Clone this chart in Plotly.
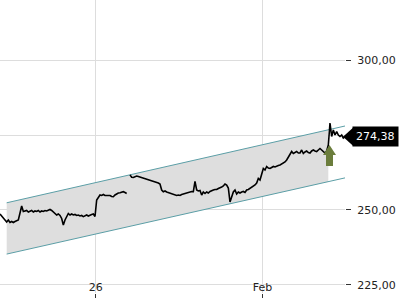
import numpy as np
import plotly.graph_objects as go

# ---- data ----
# intraday closes, 20 bars per trading day (None = missing bar)
price = [
    248.67, 248.0, 247.33, 246.67, 246.0, 246.67, 245.83, 246.17, 245.83, 246.17,
    246.33, 246.67, 249.0, 251.33, 249.5, 249.67, 249.83, 249.33, 249.5, 249.83,
    249.33, 249.67, 249.5, 249.83, 249.33, 249.67, 249.5, 249.83, 249.67, 250.0,
    250.17, 249.83, 249.33, 248.83, 248.33, 248.67, 248.17, 247.17, 245.0, 246.67,
    247.83, 248.83, 248.33, 248.67, 248.33, 248.5, 248.17, 248.33, 248.0, 248.17,
    247.77, 248.0, 248.33, 248.0, 248.33, 248.5, 248.67, 247.83, 253.33, 254.43,
    255.0, 254.83, 255.17, 254.83, 254.83, 254.67, 254.83, 254.5, 254.43, 255.0,
    255.5, 255.67, 255.77, 256.0, 256.1, 255.83, 255.5, None, 261.7, 260.9,
    260.83, 261.1, 261.33, 261.17, 261.0, 260.83, 260.67, 260.5, 260.17, 260.0,
    259.83, 259.67, 259.5, 259.33, 259.33, 259.0, 258.67, 256.67, 256.1, 256.33,
    256.0, 255.83, 255.67, 255.5, 255.33, 255.0, 254.83, 255.0, 254.83, 255.17,
    255.33, 255.5, 255.67, 256.0, 256.0, 256.17, 256.1, 259.5, 256.67, 256.33,
    256.5, 255.0, 256.0, 255.5, 256.0, 255.67, 256.17, 256.5, 256.67, 256.83,
    256.83, 257.17, 257.33, 257.67, 258.0, 258.67, 258.33, 257.33, 252.67, 254.67,
    256.0, 256.67, 255.33, 256.0, 255.67, 256.0, 256.17, 255.83, 256.67, 256.83,
    257.17, 257.5, 257.83, 258.33, 259.0, 260.5, 260.0, 262.17, 263.83, 263.33,
    264.5, 264.0, 263.83, 264.17, 264.5, 264.33, 264.67, 264.83, 265.0, 265.33,
    265.5, 266.0, 266.67, 267.67, 268.83, 269.5, 268.83, 269.33, 269.5, 269.0,
    269.0, 270.0, 268.83, 269.33, 269.67, 269.17, 269.0, 269.67, 270.0, 269.67,
    269.5, 270.0, 270.5, 270.0, 269.5, 269.0, 269.67, 271.67, 279.0, 274.5,
    276.67, 275.0, 276.17, 275.0, 274.5, 275.0, 274.0, 274.38,
]
bars = list(range(len(price)))

# trend channel (bar index, upper, lower)
channel_x = [4, 207]
channel_upper = [252.4, 278.0]
channel_lower = [235.3, 260.7]

# buy signal
signal_bar = 197.7
signal_price = 271.7

last_price = 274.38
last_label = "274,38"

x_tickvals = [57.5, 157.5]
x_ticktext = ["26", "Feb"]
y_tickvals = [225, 250, 275, 300]

x_range = [0, 207]
y_range = [222.33, 320]

FONT = "DejaVu Sans"

# y tick labels with decimal comma; the one under the last-price box stays hidden
y_ticktext = ["" if abs(v - last_price) < 4 else f"{v:.2f}".replace(".", ",")
              for v in y_tickvals]

fig = go.Figure()

# channel fill (up to the signal bar)
fill_end = 197
up_end = float(np.interp(fill_end, channel_x, channel_upper))
lo_end = float(np.interp(fill_end, channel_x, channel_lower))
fig.add_trace(go.Scatter(
    x=[channel_x[0], fill_end, fill_end, channel_x[0]],
    y=[channel_upper[0], up_end, lo_end, channel_lower[0]],
    fill="toself", fillcolor="#dedede", mode="none", hoverinfo="skip",
))
for ys in (channel_upper, channel_lower):
    fig.add_trace(go.Scatter(x=channel_x, y=ys, mode="lines",
                             line=dict(color="#5b9ea6", width=1), hoverinfo="skip"))

fig.add_trace(go.Scatter(x=bars, y=price, mode="lines",
                         line=dict(color="#000000", width=1.6), connectgaps=False))

# buy arrow
fig.add_shape(type="path", xref="x", yref="y",
              xsizemode="pixel", ysizemode="pixel",
              xanchor=signal_bar, yanchor=signal_price,
              path="M 0 0 L 6.5 -10 L 3.5 -10 L 3.5 -21 L -3.5 -21 L -3.5 -10 L -6.5 -10 Z",
              fillcolor="#6b7d3c", line=dict(width=0))

# last price marker
fig.add_shape(type="path", xref="paper", yref="y",
              xsizemode="pixel", ysizemode="pixel",
              xanchor=1, yanchor=last_price,
              path="M -2 0 L 8 9 L 8 -9 Z",
              fillcolor="#000000", line=dict(width=0))
fig.add_annotation(xref="paper", yref="y", x=1, y=last_price, xanchor="left",
                   xshift=7, text=last_label, showarrow=False,
                   bgcolor="#000000", borderpad=3,
                   font=dict(family=FONT, size=11, color="#ffffff"))

fig.update_layout(
    width=400, height=300,
    margin=dict(l=0, r=55, t=0, b=7),
    paper_bgcolor="white", plot_bgcolor="white",
    showlegend=False,
    font=dict(family=FONT, size=11, color="#222222"),
    xaxis=dict(range=x_range, tickvals=x_tickvals, ticktext=x_ticktext,
               showgrid=True, gridcolor="#dddddd", gridwidth=1,
               ticks="outside", ticklen=4, tickcolor="#333333",
               ticklabelstandoff=-20, zeroline=False, showline=False),
    yaxis=dict(range=y_range, side="right", tickvals=y_tickvals, ticktext=y_ticktext,
               showgrid=True, gridcolor="#dddddd", gridwidth=1,
               ticks="outside", ticklen=5, tickcolor="#333333",
               ticklabelstandoff=4, zeroline=False, showline=False),
)

fig.write_html("out.html")
